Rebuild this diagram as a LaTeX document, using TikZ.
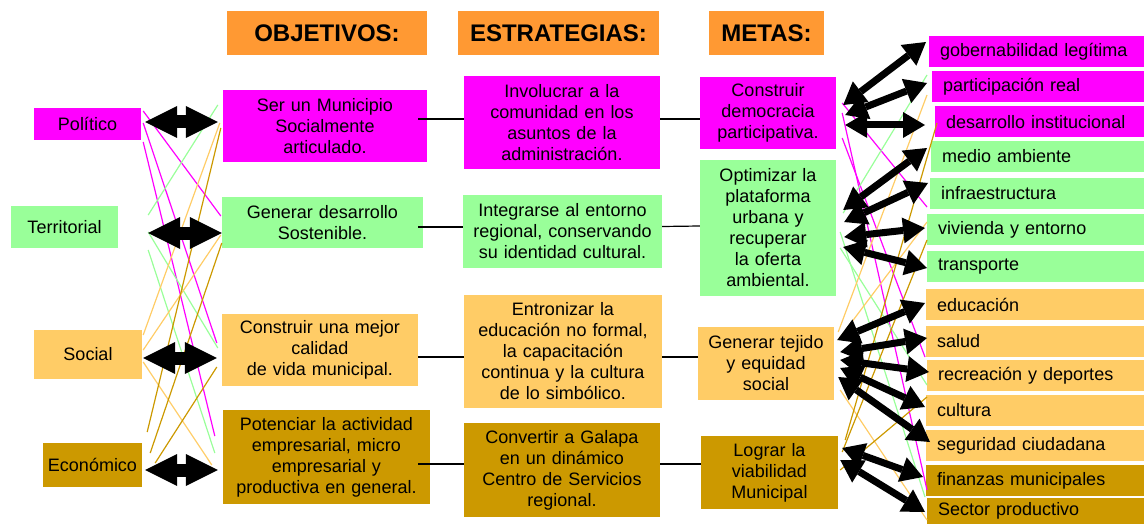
\documentclass[tikz,border=0pt]{standalone}
\usepackage{fontspec}
\setmainfont{Liberation Sans}
\usepackage{xcolor}
\usetikzlibrary{arrows.meta,calc}

\definecolor{rosa}{HTML}{FF00FF}
\definecolor{verde}{HTML}{99FF99}
\definecolor{crema}{HTML}{FFCC66}
\definecolor{oro}{HTML}{CC9900}
\definecolor{naranja}{HTML}{FF9933}

\tikzset{
  caja/.style={fill=#1, inner sep=0pt, align=center, font=\fontsize{18}{21}\selectfont},
  titulo/.style={fill=naranja, inner sep=0pt, minimum height=44pt, font=\bfseries\fontsize{24}{28}\selectfont},
  meta/.style={fill=#1, anchor=west, minimum height=31pt, inner xsep=11pt, inner ysep=0pt, align=left, font=\fontsize{18}{21}\selectfont},
  cruce/.style={draw=#1, line width=1.2pt},
  linea/.style={line width=1.2pt},
  flechadoble/.style={line width=13pt, {Triangle[length=32pt,width=32pt,line width=0pt]}-{Triangle[length=32pt,width=32pt,line width=0pt]}},
  flecha/.style={line width=7pt, {Triangle[length=22pt,width=26pt,line width=0pt]}-{Triangle[length=22pt,width=26pt,line width=0pt]}}
}

\begin{document}
\begin{tikzpicture}[x=1pt,y=-1pt]
\useasboundingbox (0,0) rectangle (1144,524);

% titulos
\node[titulo, minimum width=200pt] (hobj) at (327,33) {OBJETIVOS:};
\node[titulo, minimum width=201pt] (hest) at (558.5,33) {ESTRATEGIAS:};
\node[titulo, minimum width=115pt] (hmet) at (766.5,33) {METAS:};

% dimensiones
\node[caja=rosa, minimum width=107pt, minimum height=32pt] (pol) at (87.5,124) {Político};
\node[caja=verde, minimum width=107pt, minimum height=42pt] (ter) at (64.5,227) {Territorial};
\node[caja=crema, minimum width=108pt, minimum height=49pt] (soc) at (88,354.5) {Social};
\node[caja=oro, minimum width=99pt, minimum height=44pt] (eco) at (92.5,465) {Económico};

% objetivos
\node[caja=rosa, minimum width=204pt, minimum height=72pt, text width=200pt] (obj1) at (325,126) {Ser un Municipio\\Socialmente\\articulado.};
\node[caja=verde, minimum width=201pt, minimum height=51pt, text width=197pt] (obj2) at (322.5,222.5) {Generar desarrollo\\Sostenible.};
\node[caja=crema, minimum width=196pt, minimum height=72pt, text width=192pt] (obj3) at (320,350) {Construir una mejor\\calidad\\de vida municipal.};
\node[caja=oro, minimum width=207pt, minimum height=94pt, text width=203pt] (obj4) at (326.5,457) {Potenciar la actividad\\empresarial, micro\\empresarial y\\productiva en general.};

% estrategias
\node[caja=rosa, minimum width=196pt, minimum height=93pt, text width=192pt] (est1) at (562,122.5) {Involucrar a la\\comunidad en los\\asuntos de la\\administración.};
\node[caja=verde, minimum width=199pt, minimum height=73pt, text width=195pt] (est2) at (562.5,231.5) {Integrarse al entorno\\regional, conservando\\su identidad cultural.};
\node[caja=crema, minimum width=198pt, minimum height=113pt, text width=194pt] (est3) at (563,351.5) {Entronizar la\\educación no formal,\\la capacitación\\continua y la cultura\\de lo simbólico.};
\node[caja=oro, minimum width=196pt, minimum height=94pt, text width=192pt] (est4) at (562,470) {Convertir a Galapa\\en un dinámico\\Centro de Servicios\\regional.};

% metas
\node[caja=rosa, minimum width=136pt, minimum height=72pt, text width=132pt] (met1) at (768,113) {Construir\\democracia\\participativa.};
\node[caja=verde, minimum width=136pt, minimum height=136pt, text width=132pt] (met2) at (768,228) {Optimizar la\\plataforma\\urbana y\\recuperar\\la oferta\\ambiental.};
\node[caja=crema, minimum width=136pt, minimum height=73pt, text width=132pt] (met3) at (766,363.5) {Generar tejido\\y equidad\\social};
\node[caja=oro, minimum width=137pt, minimum height=73pt, text width=133pt] (met4) at (769.5,472.5) {Lograr la\\viabilidad\\Municipal};

% metas especificas
\node[meta=rosa, text width=193pt] (gob) at (929,52) {gobernabilidad legítima};
\node[meta=rosa, text width=190pt] (part) at (932,86.5) {participación real};
\node[meta=rosa, text width=187pt] (desi) at (935,122) {desarrollo institucional};
\node[meta=verde, text width=191pt] (medio) at (931,156.5) {medio ambiente};
\node[meta=verde, text width=192pt] (infra) at (930,193.5) {infraestructura};
\node[meta=verde, text width=195pt] (viv) at (927,229.5) {vivienda y entorno};
\node[meta=verde, text width=195pt] (trans) at (927,266.5) {transporte};
\node[meta=crema, text width=196pt] (edu) at (926,304.5) {educación};
\node[meta=crema, text width=196pt] (sal) at (926,341.5) {salud};
\node[meta=crema, text width=195pt] (rec) at (927,375.5) {recreación y deportes};
\node[meta=crema, text width=196pt] (cul) at (926,410.5) {cultura};
\node[meta=crema, text width=196pt] (seg) at (926,445.5) {seguridad ciudadana};
\node[meta=oro, text width=196pt] (fin) at (926,480.5) {finanzas municipales};
\node[meta=oro, text width=195pt, minimum height=26pt] (sec) at (927,511) {Sector productivo};

% cruces izquierda
\draw[cruce=rosa] ($(pol.east)+(2,-13)$) -- ($(obj2.west)+(-1,-6.5)$);
\draw[cruce=rosa] ($(pol.east)+(2,-1)$) -- ($(obj3.west)+(-5,-7)$);
\draw[cruce=rosa] ($(pol.east)+(2,18)$) -- ($(obj4.west)+(-8,-21)$);
\draw[cruce=verde] ($(ter.east)+(30,-12)$) -- ($(obj1.west)+(-5,-21)$);
\draw[cruce=verde] ($(ter.east)+(30,5)$) -- ($(obj3.west)+(-4,-2)$);
\draw[cruce=verde] ($(ter.east)+(30,23)$) -- ($(obj4.west)+(-8,-4)$);
\draw[cruce=crema] ($(soc.east)+(1,-19.5)$) -- ($(obj1.west)+(-3,-3)$);
\draw[cruce=crema] ($(soc.east)+(1,-4.5)$) -- ($(obj2.west)+(-1,12.5)$);
\draw[cruce=crema] ($(soc.east)+(1,7.5)$) -- ($(obj4.west)+(-11,8)$);
\draw[cruce=oro] ($(eco.east)+(5,-33)$) -- ($(obj1.west)+(-2,2)$);
\draw[cruce=oro] ($(eco.east)+(8,-12)$) -- ($(obj2.west)+(0,20.5)$);
\draw[cruce=oro] ($(eco.east)+(13,-2)$) -- ($(obj3.west)+(-5,17)$);

% cruces derecha
\draw[cruce=rosa] ($(met1.east)+(6,-10)$) -- ($(infra.west)+(-3,13.5)$);
\draw[cruce=rosa] ($(met1.east)+(6,0)$) -- ($(fin.west)+(1,9.5)$);
\draw[cruce=rosa] ($(met1.east)+(6,25)$) -- ($(sal.west)+(-1,15.5)$);
\draw[cruce=verde] ($(met2.east)+(7,-15)$) -- ($(part.west)+(-5,-11.5)$);
\draw[cruce=verde] ($(met2.east)+(4,4)$) -- ($(fin.west)+(-1,16.5)$);
\draw[cruce=verde] ($(met2.east)+(4,20)$) -- ($(rec.west)+(0,9.5)$);
\draw[cruce=crema] ($(met3.east)+(4,-31.5)$) -- ($(part.west)+(-5,8.5)$);
\draw[cruce=crema] ($(met3.east)+(4,-23.5)$) -- ($(viv.west)+(0,-7.5)$);
\draw[cruce=crema] ($(met3.east)+(6,26.5)$) -- ($(sec.west)+(0,9)$);
\draw[cruce=oro] ($(met4.east)+(7,-32.5)$) -- ($(desi.west)+(2,1)$);
\draw[cruce=oro] ($(met4.east)+(4,-20.5)$) -- ($(viv.west)+(0,10.5)$);
\draw[cruce=oro] ($(met4.east)+(2,-2.5)$) -- ($(cul.west)+(1,-13.5)$);

% conexiones
\draw[linea] ($(obj1.east)+(-9,-7)$) -- ($(est1.west)+(0,-3.5)$);
\draw[linea] ($(est1.east)+(0,-3.5)$) -- ($(met1.west)+(0,6)$);
\draw[linea] ($(obj2.east)+(-5,4.5)$) -- ($(est2.west)+(0,-4.5)$);
\draw[linea] ($(est2.east)+(0,-5)$) -- ($(met2.west)+(0,-2)$);
\draw[linea] ($(obj3.east)+(0,7)$) -- ($(est3.west)+(0,5.5)$);
\draw[linea] ($(est3.east)+(0,5.5)$) -- ($(met3.west)+(0,-6.5)$);
\draw[linea] ($(obj4.east)+(-12,7)$) -- ($(est4.west)+(0,-6)$);
\draw[linea] ($(est4.east)+(0,-6)$) -- ($(met4.west)+(0,-8.5)$);

% flechas dobles
\draw[flechadoble] ($(pol.east)+(4,-2)$) -- ($(obj1.west)+(-5,-4)$);
\draw[flechadoble] ($(ter.east)+(30,6)$) -- ($(obj2.west)+(0,10.5)$);
\draw[flechadoble] ($(soc.east)+(1,3.5)$) -- ($(obj3.west)+(-5,8)$);
\draw[flechadoble] ($(eco.east)+(3,5)$) -- ($(obj4.west)+(-5,13)$);

% flechas metas
\draw[flecha] ($(met1.east)+(7,-8)$) -- ($(gob.west)+(-3,-10)$);
\draw[flecha] ($(met1.east)+(9,2)$) -- ($(part.west)+(-5,-3.5)$);
\draw[flecha] ($(met1.east)+(9,12)$) -- ($(desi.west)+(-10,3)$);
\draw[flecha] ($(met2.east)+(7,-18)$) -- ($(medio.west)+(-4,-8.5)$);
\draw[flecha] ($(met2.east)+(8,-6)$) -- ($(infra.west)+(-2,-10.5)$);
\draw[flecha] ($(met2.east)+(8,9)$) -- ($(viv.west)+(-2,-1.5)$);
\draw[flecha] ($(met2.east)+(7,19)$) -- ($(trans.west)+(0,1.5)$);
\draw[flecha] ($(met3.east)+(3,-23.5)$) -- ($(edu.west)+(-1,-1.5)$);
\draw[flecha] ($(met3.east)+(6,-11.5)$) -- ($(sal.west)+(1,-3.5)$);
\draw[flecha] ($(met3.east)+(6,-3.5)$) -- ($(rec.west)+(2,-3.5)$);
\draw[flecha] ($(met3.east)+(6,4.5)$) -- ($(cul.west)+(-1,-3.5)$);
\draw[flecha] ($(met3.east)+(4,13.5)$) -- ($(seg.west)+(4,-3.5)$);
\draw[flecha] ($(met4.east)+(4,-24.5)$) -- ($(fin.west)+(-3,-3.5)$);
\draw[flecha] ($(met4.east)+(2,-12.5)$) -- ($(sec.west)+(-2,1)$);
\end{tikzpicture}
\end{document}
